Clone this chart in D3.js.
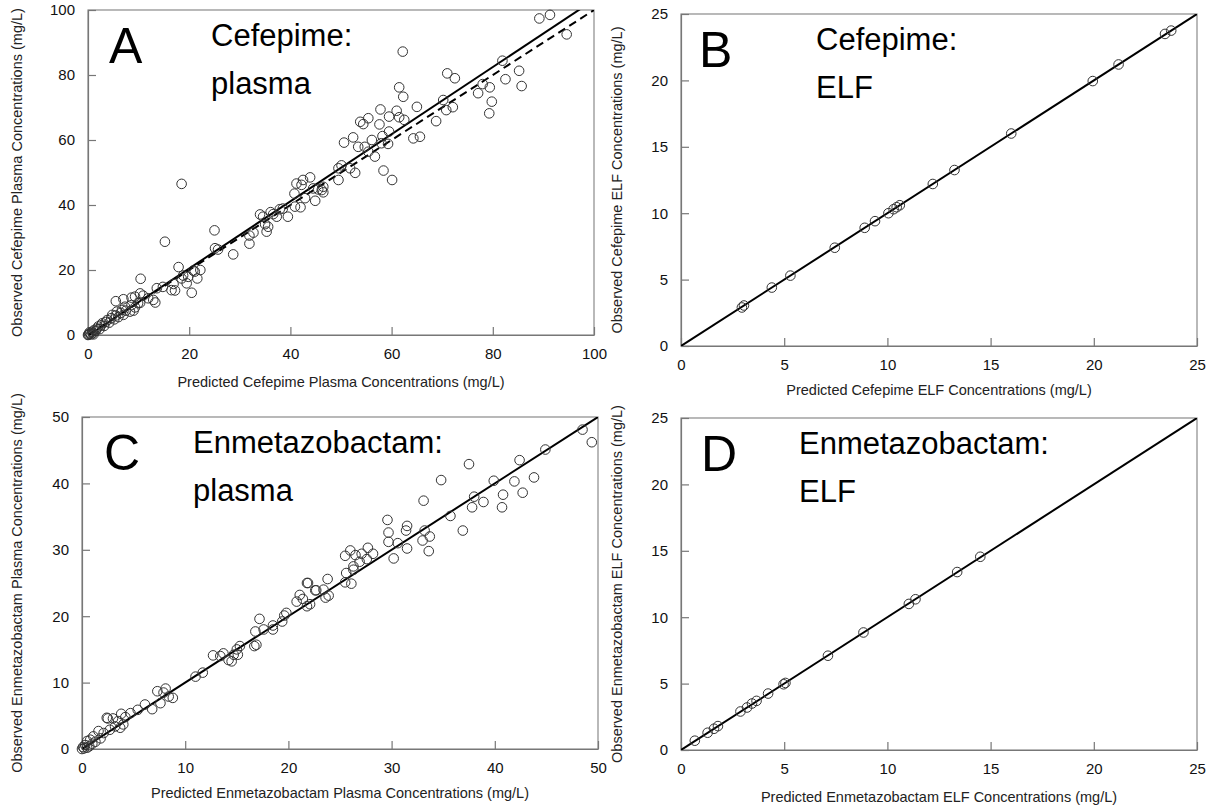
<!DOCTYPE html>
<html><head><meta charset="utf-8">
<script src="https://cdn.jsdelivr.net/npm/d3@7"></script>
<style>body{margin:0;background:#fff}svg{display:block}text{font-family:"Liberation Sans",Arial,sans-serif}</style>
</head><body><svg id="c" width="1216" height="807"></svg>
<script>
// ---- data: [predicted, observed] ----
const cefepimePlasma = [
[0,0],[0.1,0.1],[0.2,0.3],[0.3,0.8],[0.4,0.5],[0.6,0.2],[0.8,1],[1,0.6],[1.1,0.2],[1.2,1.5],[1.5,1.2],[1.8,2],[2,2.6],[2.3,1.8],[2.6,3],[2.8,3.6],[3.2,2.8],[3.5,4],[3.8,4.6],[4.2,3.8],[4.6,5.2],[4.8,6.2],[5.2,4.8],[5.5,6],[6,5.5],[6.5,6.8],[7,6.2],[7.5,7.5],
[5.5,10.4],[5.7,7.2],[6.7,7.7],[7,11],[7.3,8.7],[8.3,7.2],[8.6,11.5],[8.6,9.2],[9,7.5],[9.3,8.5],[9.3,11.8],[9.9,9.8],[10.3,12.8],[10.3,9.9],[10.4,17.3],[10.9,12.1],[11.9,11.3],[12.9,10.8],[13.3,10],[13.6,14.4],[14.8,14.8],[15.2,28.7],[16.5,13.8],[16.9,15.7],[17.2,13.7],[17.9,20.9],[18.5,46.5],[18.5,17.4],[18.8,18.3],[19.5,15.9],[19.8,17.9],[20.5,13],[20.8,19.8],[21.6,17.4],[22.2,20],[21.1,19.5],
[25,32.2],[25.1,26.7],[25.7,26.3],[28.7,24.8],[31.9,30.6],[31.9,28.1],[32.7,31.5],[34,37.1],[34.6,36.4],[35.3,31.8],[35.6,33.3],[35,34.1],[36.1,37.8],[36.6,37.2],[37.3,36.4],[37.9,38.7],[38.5,38.9],[39.5,36.4],[40.8,43.5],[41.2,46.6],[40.9,39.5],[42,39.3],[42.9,42.1],[44.9,41.3],[43.9,48.5],[45.5,44.8],[46.2,44.6],[46.5,43.9],[42.2,46.2],[44.5,45.1],[46.5,45.6],[42.5,47.7],
[49.5,51.3],[50.1,52.2],[49.5,47.7],[50.6,59.2],[51.8,51.3],[52.8,49.9],[52.4,60.8],[53.4,57.9],[53.8,65.6],[54.4,64.9],[54.7,57.9],[55.4,66.7],[55.4,56.4],[56.1,60],[56.7,54.9],[57.6,64.8],[57.8,69.4],[58,59],[58.2,61.2],[58.4,50.6],[59.3,58.8],[59.5,67.2],[59.5,62.6],[60.1,47.7],[61,69],[61.5,67],[61.5,76.2],[62.3,73.3],[62.2,87.2],[62.5,66.2],[64.3,60.5],[65.6,61],[65,70.2],[68.8,65.8],[70.2,72.3],[70.8,69.2],[71,80.5],[72.1,70.1],[72.5,79],[77.1,74.4],[78,77.2],[79.4,76.2],[79.8,71.8],[79.3,68.2],[81.9,84.4],[82.5,78.7],[85.2,81.3],[85.7,76.6],[89.2,97.4],[91.3,98.5],[94.6,92.5]
];
const cefepimeELF = [
[2.95,2.9],[3.05,3.05],[4.4,4.4],[5.3,5.3],[7.45,7.4],[8.9,8.9],[9.4,9.4],[10.05,10.0],[10.3,10.3],[10.45,10.45],[10.6,10.6],[12.2,12.2],[13.25,13.25],[16.0,16.0],[19.95,19.95],[21.2,21.2],[23.45,23.5],[23.75,23.75]
];
const enmetPlasma = [
[0,0],[0.1,0.3],[0.2,0.1],[0.3,0.6],[0.5,0.2],[0.5,1.2],[0.7,0.4],[0.8,1.4],[1,0.8],[1.1,1.9],[1.3,1.1],[1.6,2.7],[1.8,1.6],[2.1,2.4],[2.4,4.7],[2.5,4.6],[2.7,2.9],[3,4.6],[3.2,3.4],[3.5,4.2],[3.7,3.2],[3.8,5.3],[4,3.7],[4.2,4.8],[4.7,5.4],[5.4,5.9],[6.1,6.7],[6.8,6],
[7.3,8.7],[7.6,6.9],[7.9,8.5],[8.1,9.1],[8.4,7.9],[8.8,7.7],[11,10.9],[11.7,11.5],
[12.7,14.1],[13.4,14],[13.7,14.4],[14.2,13.4],[14.5,13.2],[14.7,14.2],[15.1,14.2],[15.3,15.5],[15,15],
[16.7,15.5],[16.8,17.7],[16.9,15.7],[17.2,19.6],[17.6,18],[18.5,18.6],[18.5,18],[19.4,19.2],[19.6,20.1],[19.8,20.5],
[20.8,22.2],[21.1,23.2],[21.4,22.6],[21.8,21.5],[21.9,25],[22.1,21.8],[22.7,23.9],[23.4,24],[23.6,22.8],[23.8,25.6],[23.9,23.1],[21.8,25],[22.6,23.9],
[25.5,29.1],[26,29.9],[26.5,29.2],[27.1,29.4],[27.7,30.3],[28.2,29.4],[27.6,28.6],[26.9,28.2],[26.3,27.5],[25.6,26.5],[25.5,25.1],[26.1,24.9],[26.3,27],
[29.6,34.5],[29.7,32.6],[29.7,31.2],[31.5,33.6],[31.4,32.9],[31.5,30.2],[30.2,28.7],[30.6,31],[33.1,37.4],[33,31.4],[33.7,32],[33.2,32.9],[33.6,29.8],
[34.8,40.5],[35.7,35.1],[36.9,32.9],[37.5,42.9],[38,38],[37.8,36.4],[38.9,37.2],[39.9,40.4],[40.8,38.3],[40.7,36.4],[41.9,40.3],[42.4,43.5],[42.7,38.6],[43.8,40.9],[44.9,45.1],[48.5,48.1],[49.4,46.2]
];
const enmetELF = [
[0.67,0.7],[1.29,1.3],[1.6,1.6],[1.79,1.8],[2.88,2.9],[3.2,3.2],[3.44,3.5],[3.66,3.7],[4.22,4.25],[4.97,4.95],[5.06,5.05],[7.12,7.1],[8.84,8.85],[11.04,11.0],[11.36,11.35],[13.38,13.4],[14.5,14.55]
];
const ticksA = [0,20,40,60,80,100];
const ticksB = [0,5,10,15,20,25];
const ticksC = [0,10,20,30,40,50];
const ticksD = [0,5,10,15,20,25];

const panels = [
 {id:"A", data:cefepimePlasma, max:100, ticks:ticksA, x0:88, x1:594, y0:335, y1:10,
  letter:"A", l1:"Cefepime:", l2:"plasma", lx:109, tx:211, xty:52,
  xt:"Predicted Cefepime Plasma Concentrations (mg/L)", yt:"Observed Cefepime Plasma Concentrations (mg/L)",
  fit:{slope:1.033, icpt:-0.2}, ident:true, ytx:22},
 {id:"B", data:cefepimeELF, max:25, ticks:ticksB, x0:681, x1:1197, y0:346, y1:14,
  letter:"B", l1:"Cefepime:", l2:"ELF", lx:699, tx:816, xty:49,
  xt:"Predicted Cefepime ELF Concentrations (mg/L)", yt:"Observed Cefepime ELF Concentrations (mg/L)",
  fit:{slope:1, icpt:0}, ident:false, ytx:622},
 {id:"C", data:enmetPlasma, max:50, ticks:ticksC, x0:82, x1:598, y0:749, y1:417,
  letter:"C", l1:"Enmetazobactam:", l2:"plasma", lx:104, tx:193, xty:49,
  xt:"Predicted Enmetazobactam Plasma Concentrations (mg/L)", yt:"Observed Enmetazobactam Plasma Concentrations (mg/L)",
  fit:{slope:1, icpt:0}, ident:false, ytx:22},
 {id:"D", data:enmetELF, max:25, ticks:ticksD, x0:681, x1:1197, y0:750, y1:418,
  letter:"D", l1:"Enmetazobactam:", l2:"ELF", lx:701, tx:799, xty:52,
  xt:"Predicted Enmetazobactam ELF Concentrations (mg/L)", yt:"Observed Enmetazobactam ELF Concentrations (mg/L)",
  fit:{slope:1, icpt:0}, ident:false, ytx:622}
];

const svg = d3.select("#c");
const defs = svg.append("defs");

panels.forEach(p => {
  const x = d3.scaleLinear().domain([0,p.max]).range([p.x0,p.x1]);
  const y = d3.scaleLinear().domain([0,p.max]).range([p.y0,p.y1]);
  const g = svg.append("g");
  defs.append("clipPath").attr("id","clip"+p.id).append("rect")
    .attr("x",p.x0).attr("y",p.y1).attr("width",p.x1-p.x0).attr("height",p.y0-p.y1);

  g.append("rect").attr("x",p.x0).attr("y",p.y1).attr("width",p.x1-p.x0).attr("height",p.y0-p.y1)
    .attr("fill","none").attr("stroke","#8a8a8a").attr("stroke-width",1.2);

  const xa = g.append("g").attr("transform",`translate(0,${p.y0})`)
    .call(d3.axisBottom(x).tickValues(p.ticks).tickSizeInner(-8).tickSizeOuter(0).tickPadding(13));
  const ya = g.append("g").attr("transform",`translate(${p.x0},0)`)
    .call(d3.axisLeft(y).tickValues(p.ticks).tickSizeInner(-8).tickSizeOuter(0).tickPadding(13));
  [xa,ya].forEach(a=>{
    a.select(".domain").attr("stroke","#777").attr("stroke-width",1.2);
    a.selectAll(".tick line").attr("stroke","#777").attr("stroke-width",1.2);
    a.selectAll(".tick text").attr("fill","#111").style("font-size","15px").style("font-family",'"Liberation Sans",Arial,sans-serif');
  });

  const pl = g.append("g").attr("clip-path",`url(#clip${p.id})`);
  pl.append("line").attr("x1",x(0)).attr("y1",y(p.fit.icpt))
    .attr("x2",x(p.max)).attr("y2",y(p.fit.icpt + p.fit.slope*p.max))
    .attr("stroke","#000").attr("stroke-width",2);
  if (p.ident) {
    pl.append("line").attr("x1",x(0)).attr("y1",y(0)).attr("x2",x(p.max)).attr("y2",y(p.max))
      .attr("stroke","#000").attr("stroke-width",2).attr("stroke-dasharray","8,5");
  }
  g.append("g").selectAll("circle").data(p.data).join("circle")
    .attr("cx",d=>x(d[0])).attr("cy",d=>y(d[1])).attr("r",4.8)
    .attr("fill","none").attr("stroke","#333").attr("stroke-width",1);

  g.append("text").attr("x",p.lx).attr("y",p.y1+53).text(p.letter)
    .style("font-size","50px").attr("fill","#000");
  g.append("text").attr("x",p.tx).attr("y",p.y1+36).text(p.l1).style("font-size","31px").attr("fill","#000");
  g.append("text").attr("x",p.tx).attr("y",p.y1+84).text(p.l2).style("font-size","31px").attr("fill","#000");

  g.append("text").attr("x",(p.x0+p.x1)/2).attr("y",p.y0+p.xty).attr("text-anchor","middle")
    .style("font-size","14.5px").attr("fill","#222").text(p.xt);
  g.append("text").attr("transform",`translate(${p.ytx},${(p.y0+p.y1)/2}) rotate(-90)`)
    .attr("text-anchor","middle").style("font-size","14.5px").attr("fill","#222").text(p.yt);
});
</script></body></html>
